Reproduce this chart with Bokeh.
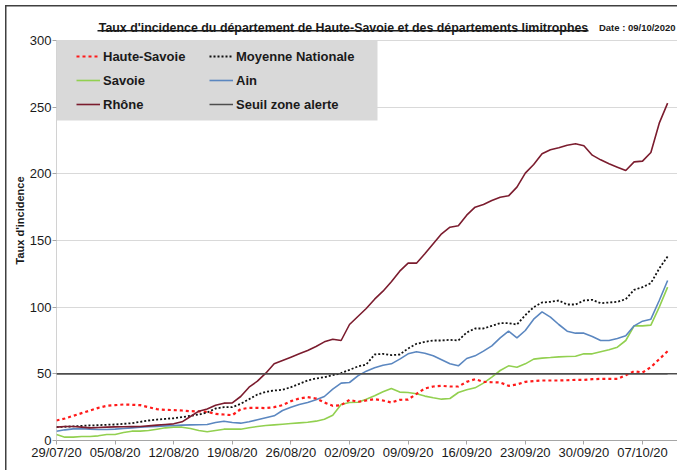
import datetime as dt
from bokeh.plotting import figure
from bokeh.models import (Range1d, FixedTicker, DatetimeTickFormatter, Span, Legend,
                          LegendItem, Label, BoxAnnotation)
from bokeh.embed import file_html
from bokeh.resources import INLINE

# ---------------- data ----------------
START_DATE = "29/07/20"
N_DAYS = 74
TICK_LABELS = ["29/07/20", "05/08/20", "12/08/20", "19/08/20", "26/08/20", "02/09/20",
               "09/09/20", "16/09/20", "23/09/20", "30/09/20", "07/10/20"]
Y_TICKS = [0, 50, 100, 150, 200, 250, 300]
SEUIL = 50

haute_savoie = [15, 16.5, 18.5, 20.5, 22.5, 24.5, 26, 26.5, 27, 26.8,
                26.5, 25, 23.5, 23, 22.8, 22.5, 22, 21.8, 21.5, 20,
                19.5, 19, 23.5, 24.5, 24.5, 24.3, 25, 26.5, 29.5, 31.5,
                32.5, 31.5, 28.5, 26, 26.5, 30.5, 29, 30, 31, 30,
                28.5, 30.5, 30.7, 35, 39, 40.5, 41, 40.5, 40.5, 44,
                46, 44, 43.7, 43.5, 41, 42, 44, 44.5, 45, 45,
                45, 45.2, 45.5, 45.5, 46, 46.2, 46.2, 46.2, 49, 52,
                51, 55, 61, 67]
moyenne_nationale = [10, 10.3, 10.6, 11, 11.3, 11.5, 11.8, 12, 12.5, 13,
                     14, 15, 15.7, 16.2, 16.7, 17.5, 18.5, 19.5, 21, 24,
                     25, 25, 27.5, 31, 34.5, 36.5, 37.5, 38, 40, 42.5,
                     45, 46.5, 47.5, 49, 50.5, 53, 55.5, 57, 64.5, 65,
                     64, 64.5, 69, 72.5, 74, 75, 75, 75.5, 75, 81,
                     84, 84, 86, 88, 88, 87, 94, 100, 103.5, 104,
                     105, 102, 102, 105, 105.5, 103, 103.5, 104, 106, 113,
                     115, 118, 129, 138]
savoie = [4.5, 2.5, 2.5, 3, 3, 3.5, 4.5, 4.5, 6, 7,
          7, 7.5, 8.5, 9.5, 10, 10, 9, 7.5, 6.5, 7.5,
          8.5, 8.5, 8.5, 9.5, 10.5, 11.2, 11.7, 12.2, 12.7, 13.2,
          13.7, 14.5, 16, 19, 27, 28.5, 28.7, 31, 33.5, 36.5,
          39, 36.3, 36, 35, 33.3, 32, 31, 31.5, 36, 38,
          39.5, 43, 47.5, 52.5, 56, 55, 57.5, 61, 61.8, 62.2,
          62.7, 63, 63.2, 65, 65, 66.5, 68, 70, 75, 86,
          86, 86.5, 100, 115]
ain = [7, 8, 8.7, 8.8, 8.5, 8.3, 8.2, 8.5, 9, 9.5,
       10, 10.3, 10.6, 11, 11.2, 11.5, 11.7, 11.8, 12, 13.5,
       14.5, 13.5, 13, 14, 15.5, 17, 18.5, 22.5, 25, 27,
       28.5, 30.5, 33, 38.5, 43, 43.5, 48.5, 52, 54.5, 56.5,
       57.5, 61, 65, 66.5, 65.5, 63.5, 60.5, 57.5, 56, 61.5,
       63.5, 67, 71, 77, 82, 77, 82.5, 91, 96.5, 92.5,
       87, 82, 80.5, 80.5, 78, 75, 75, 76.5, 78.5, 86,
       89.5, 91, 105, 120]
rhone = [10, 10.5, 10.5, 10, 9.5, 9.8, 10, 10.2, 10.3, 10.4,
         10.5, 11, 11.5, 12, 12.5, 14, 18, 22, 23.7, 26.5,
         28, 28.2, 33, 40, 44.5, 50.5, 57.5, 60, 62.5, 65,
         67.5, 70.5, 74, 76, 75, 87, 93, 99, 106, 112,
         119, 127, 133, 133, 140, 147.5, 155, 160, 161, 169,
         175, 177, 180, 182.5, 183.5, 190, 200.5, 207, 215, 218,
         219.5, 221.5, 222.5, 221, 214, 210.5, 207.5, 205, 202.5, 209,
         209.5, 216, 238, 253]

# ---------------- derived ----------------
start = dt.datetime.strptime(START_DATE, "%d/%m/%y")
dates = [start + dt.timedelta(days=i) for i in range(N_DAYS)]
tick_ms = [dt.datetime.strptime(t, "%d/%m/%y").replace(tzinfo=dt.timezone.utc).timestamp() * 1000
           for t in TICK_LABELS]

FONT = "Liberation Sans"
W, H = 677, 470

# frame covers the top of the canvas so title/legend live inside it;
# value 300 sits 40px below the canvas top.
p = figure(width=W, height=H, output_backend="svg", toolbar_location=None,
           x_axis_type="datetime",
           x_range=Range1d(start, start + dt.timedelta(days=74.18)),
           y_range=Range1d(0, 330),
           min_border_left=56, min_border_right=0, min_border_top=0, min_border_bottom=30)
p.outline_line_color = None
p.background_fill_color = None
p.border_fill_color = None
p.styles = {
    "background": ("linear-gradient(#404040,#404040) 5px 5px / 1.5px 100% no-repeat, "
                   "linear-gradient(#404040,#404040) 5px 5px / 100% 1.5px no-repeat, white"),
}

p.xgrid.grid_line_color = None
p.ygrid.grid_line_color = "#d9d9d9"
p.ygrid.grid_line_width = 1
p.ygrid.ticker = FixedTicker(ticks=Y_TICKS)

fmt = "%d/%m/%y"
p.xaxis.ticker = FixedTicker(ticks=tick_ms)
p.xaxis.formatter = DatetimeTickFormatter(microseconds=fmt, milliseconds=fmt, seconds=fmt,
                                          minsec=fmt, minutes=fmt, hourmin=fmt, hours=fmt,
                                          days=fmt, months=fmt, years=fmt)
p.yaxis.ticker = FixedTicker(ticks=Y_TICKS)

for ax in (p.xaxis[0], p.yaxis[0]):
    ax.axis_line_color = "#a6a6a6"
    ax.major_tick_line_color = "#a6a6a6"
    ax.major_tick_out = 4
    ax.major_tick_in = 0
    ax.minor_tick_line_color = None
    ax.major_label_text_font = FONT
    ax.major_label_text_font_size = "13px"
    ax.major_label_text_color = "#1a1a1a"
p.xaxis.major_label_standoff = 0
p.yaxis.major_label_standoff = 1
p.yaxis.axis_line_color = None

p.yaxis.axis_label = "Taux d'incidence"
p.yaxis.axis_label_text_font = FONT
p.yaxis.axis_label_text_font_size = "11px"
p.yaxis.axis_label_text_font_style = "bold"
p.yaxis.axis_label_text_color = "#1a1a1a"
p.yaxis.axis_label_standoff = 1

# y axis line drawn only up to the top tick
p.segment(x0=[dates[0]], y0=[Y_TICKS[0]], x1=[dates[0]], y1=[Y_TICKS[-1]],
          line_color="#a6a6a6", line_width=1)

# threshold line across the whole frame
p.add_layout(Span(location=SEUIL, dimension="width", line_color="#4d4d4d", line_width=1.5))

r_seuil = p.line(dates, [SEUIL] * N_DAYS, line_color="#4d4d4d", line_width=1.5)
r_sav = p.line(dates, savoie, line_color="#92d050", line_width=1.6)
r_ain = p.line(dates, ain, line_color="#5b87c0", line_width=1.6)
r_hs = p.line(dates, haute_savoie, line_color="#ff1a1a", line_width=2.2, line_dash="3 3")
r_mn = p.line(dates, moyenne_nationale, line_color="#111111", line_width=1.8, line_dash="2 2")
r_rh = p.line(dates, rhone, line_color="#7b1c2e", line_width=1.6)

def canvas_box(l, r, t, b, color, alpha=1):
    return BoxAnnotation(left=l, right=r, top=t, bottom=b, left_units="canvas",
                         right_units="canvas", top_units="canvas", bottom_units="canvas",
                         fill_color=color, fill_alpha=alpha, line_color=None)

# title + underline + date
p.add_layout(Label(x=343, y=27, x_units="canvas", y_units="canvas",
                   text="Taux d'incidence du département de Haute-Savoie et des départements limitrophes",
                   text_align="center", text_baseline="alphabetic", text_font=FONT,
                   text_font_size="12.4px", text_font_style="bold", text_color="#1a1a1a"))
p.add_layout(canvas_box(97, 588, 29.5, 31, "#1a1a1a"))
p.add_layout(Label(x=675, y=27, x_units="canvas", y_units="canvas",
                   text="Date : 09/10/2020", text_align="right", text_baseline="alphabetic",
                   text_font=FONT, text_font_size="9.5px", text_font_style="bold",
                   text_color="#1a1a1a"))

# legend background
p.add_layout(canvas_box(56, 377, 40, 120, "#d9d9d9"))

legend = Legend(items=[LegendItem(label="Haute-Savoie", renderers=[r_hs]),
                       LegendItem(label="Savoie", renderers=[r_sav]),
                       LegendItem(label="Rhône", renderers=[r_rh]),
                       LegendItem(label="Moyenne Nationale", renderers=[r_mn]),
                       LegendItem(label="Ain", renderers=[r_ain]),
                       LegendItem(label="Seuil zone alerte", renderers=[r_seuil])],
                location=(20, 328), orientation="vertical", ncols=2,
                background_fill_alpha=0, border_line_color=None, padding=0, margin=0,
                spacing=8, glyph_width=24, glyph_height=16, label_height=16,
                label_width=98, label_standoff=3, label_text_font=FONT,
                label_text_font_size="13px", label_text_font_style="bold",
                label_text_color="#1a1a1a")
p.add_layout(legend)

open("out.html", "w").write(file_html(p, INLINE))
